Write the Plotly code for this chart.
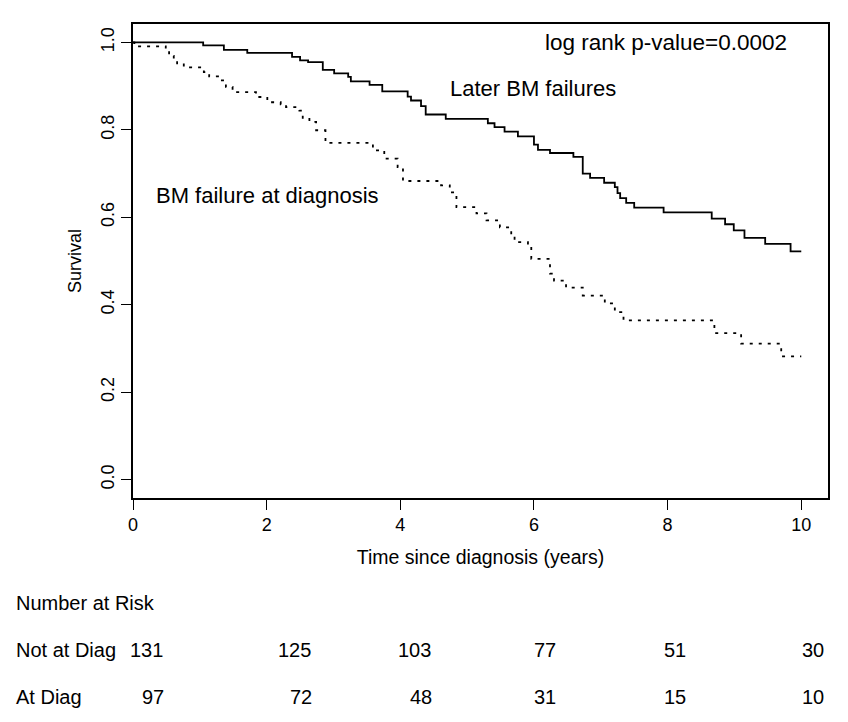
import plotly.graph_objects as go

# ---- data ----
later_time = [0, 1.05, 1.36, 1.71, 2.38, 2.50, 2.62, 2.84, 3.01, 3.22, 3.26, 3.54, 3.73,
              4.11, 4.16, 4.31, 4.38, 4.68, 5.31, 5.41, 5.56, 5.76, 6.00, 6.06, 6.24,
              6.59, 6.73, 6.84, 7.05, 7.21, 7.25, 7.29, 7.38, 7.50, 7.94, 8.66, 8.86,
              8.99, 9.15, 9.46, 9.84, 10.0]
later_surv = [1.0, 0.993, 0.983, 0.976, 0.967, 0.959, 0.955, 0.937, 0.929, 0.921, 0.911, 0.903, 0.888,
              0.876, 0.867, 0.854, 0.835, 0.825, 0.815, 0.806, 0.796, 0.785, 0.766, 0.754, 0.747,
              0.738, 0.700, 0.690, 0.679, 0.669, 0.655, 0.644, 0.633, 0.622, 0.611, 0.597, 0.584,
              0.570, 0.553, 0.539, 0.522, 0.522]

diag_time = [0, 0.02, 0.49, 0.54, 0.61, 0.66, 0.76, 1.06, 1.14, 1.29, 1.39, 1.49, 1.84,
             2.01, 2.21, 2.29, 2.49, 2.54, 2.64, 2.74, 2.88, 3.59, 3.76, 3.96, 4.04,
             4.61, 4.74, 4.84, 5.14, 5.29, 5.49, 5.66, 5.71, 5.91, 5.96, 6.24, 6.30,
             6.48, 6.73, 7.06, 7.21, 7.34, 8.70, 9.10, 9.70, 10.0]
diag_surv = [1.0, 0.991, 0.980, 0.969, 0.960, 0.952, 0.943, 0.932, 0.922, 0.913, 0.898, 0.886, 0.875,
             0.863, 0.858, 0.852, 0.844, 0.825, 0.818, 0.799, 0.770, 0.753, 0.734, 0.715, 0.683,
             0.673, 0.657, 0.623, 0.609, 0.593, 0.577, 0.558, 0.543, 0.532, 0.505, 0.471, 0.455,
             0.439, 0.421, 0.403, 0.383, 0.364, 0.335, 0.311, 0.282, 0.282]

x_ticks = [0, 2, 4, 6, 8, 10]
y_ticks = [0.0, 0.2, 0.4, 0.6, 0.8, 1.0]
y_tick_labels = ["0.0", "0.2", "0.4", "0.6", "0.8", "1.0"]

risk_groups = ["Not at Diag", "At Diag"]
risk_not_at_diag = [131, 125, 103, 77, 51, 30]
risk_at_diag = [97, 72, 48, 31, 15, 10]

p_value_text = "log rank p-value=0.0002"

# ---- layout helpers (screen pixels; page body adds an 8px offset) ----
OFF = 8
W, H = 848, 722
L, R, T, B = 133, 828, 24, 498          # plot box in screen pixels
FONT = "Liberation Sans, Arial, sans-serif"


def px_x(px):
    return (px - L) / (R - L)


def px_y(py):
    return (B - py) / (B - T)


fig = go.Figure()
fig.add_trace(go.Scatter(x=later_time, y=later_surv, mode="lines", line_shape="hv",
                         line=dict(color="black", width=1.8), showlegend=False,
                         hoverinfo="skip"))
fig.add_trace(go.Scatter(x=diag_time, y=diag_surv, mode="lines", line_shape="hv",
                         line=dict(color="black", width=1.8, dash="3px,6px"),
                         showlegend=False, hoverinfo="skip"))

annotations = [
    dict(x=9.82, y=1.0, xref="x", yref="y", text=p_value_text, showarrow=False,
         xanchor="right", yanchor="middle", font=dict(size=22.5)),
    dict(x=4.72, y=0.895, xref="x", yref="y", text="Later BM failures", showarrow=False,
         xanchor="left", yanchor="middle", font=dict(size=22)),
    dict(x=0.31, y=0.649, xref="x", yref="y", text="BM failure at diagnosis",
         showarrow=False, xanchor="left", yanchor="middle", font=dict(size=22)),
    dict(x=px_x(14), y=px_y(603), xref="paper", yref="paper", text="Number at Risk",
         showarrow=False, xanchor="left", yanchor="middle", font=dict(size=20)),
]

row_y = [650, 697]
col_x = [146, 294, 414, 545, 675, 813]
for gi, (name, vals) in enumerate(zip(risk_groups, [risk_not_at_diag, risk_at_diag])):
    annotations.append(dict(x=px_x(14), y=px_y(row_y[gi]), xref="paper", yref="paper",
                            text=name, showarrow=False, xanchor="left", yanchor="middle",
                            font=dict(size=20)))
    for ci, v in enumerate(vals):
        cx = col_x[ci] + (7 if (gi == 1 and v < 100 and ci < 3) else 0)
        annotations.append(dict(x=px_x(cx), y=px_y(row_y[gi]), xref="paper", yref="paper",
                                text=str(v), showarrow=False, xanchor="center",
                                yanchor="middle", font=dict(size=20)))

fig.update_layout(
    width=W, height=H,
    margin=dict(l=L - OFF, r=W - R + OFF, t=T - OFF, b=H - B + OFF, pad=0),
    paper_bgcolor="white", plot_bgcolor="white",
    font=dict(family=FONT, color="black", size=18),
    annotations=annotations,
    showlegend=False,
)
fig.update_xaxes(range=[0, 10.4], tickvals=x_ticks, ticktext=[str(v) for v in x_ticks],
                 ticks="outside", ticklen=10, tickwidth=1.2, tickcolor="black",
                 showline=True, linecolor="black", linewidth=1.5, mirror=True,
                 showgrid=False, zeroline=False, tickfont=dict(size=18),
                 title=dict(text="Time since diagnosis (years)", font=dict(size=19.5), standoff=16))
fig.update_yaxes(range=[-0.042, 1.042], tickvals=y_ticks, ticktext=y_tick_labels,
                 tickangle=-90,
                 ticks="outside", ticklen=10, tickwidth=1.2, tickcolor="black",
                 showline=True, linecolor="black", linewidth=1.5, mirror=True,
                 showgrid=False, zeroline=False, tickfont=dict(size=18),
                 title=dict(text="Survival", font=dict(size=18), standoff=12))

fig.write_html("out.html")
